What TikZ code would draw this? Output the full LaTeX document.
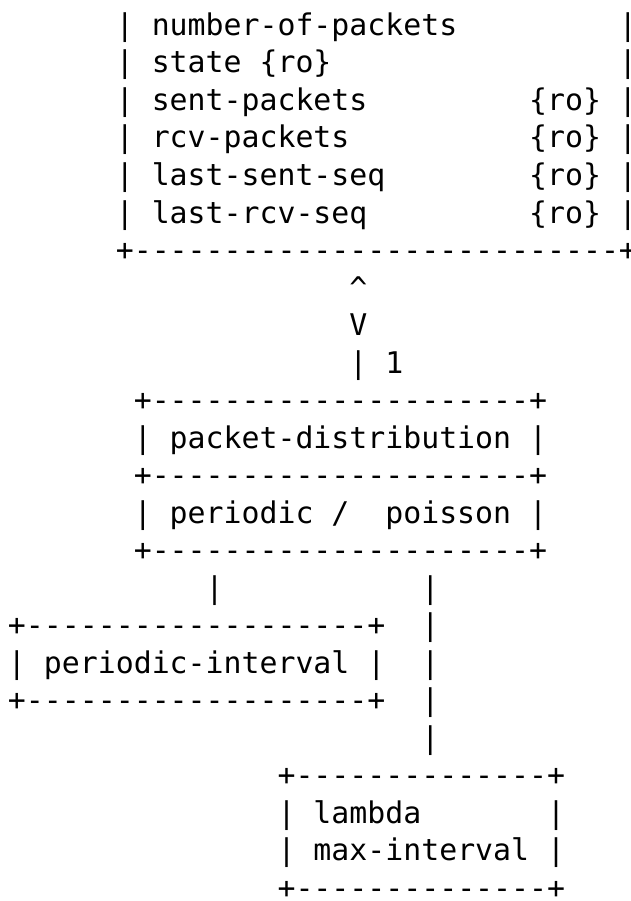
\documentclass[tikz,border=0pt]{standalone}
\usepackage{fontspec}
\setmonofont{DejaVu Sans Mono}
\tikzset{asc/.style={anchor=base west,inner sep=0pt,outer sep=0pt,text=black,
  font=\ttfamily\fontsize{29.85}{37.5}\selectfont}}
\newcommand\ascput[4]{\node[asc] (#1) at ({8+17.97*#2},{-35.5-37.5*(#3-1)}) {#4};}
\begin{document}
\begin{tikzpicture}[x=1pt,y=1pt]
\fill[white] (0,0) rectangle (630,-901);
\useasboundingbox (0,0) rectangle (630,-901);
% top box
\ascput{t1}{6}{1}{| number-of-packets}
\ascput{t1r}{34}{1}{|}
\ascput{t2}{6}{2}{| state \{ro\}}
\ascput{t2r}{34}{2}{|}
\ascput{t3}{6}{3}{| sent-packets}
\ascput{t3r}{29}{3}{\{ro\} |}
\ascput{t4}{6}{4}{| rcv-packets}
\ascput{t4r}{29}{4}{\{ro\} |}
\ascput{t5}{6}{5}{| last-sent-seq}
\ascput{t5r}{29}{5}{\{ro\} |}
\ascput{t6}{6}{6}{| last-rcv-seq}
\ascput{t6r}{29}{6}{\{ro\} |}
\ascput{t7}{6}{7}{+---------------------------+}
% link
\ascput{up}{19}{8}{\textasciicircum}
\ascput{dn}{19}{9}{V}
\ascput{link}{19}{10}{| 1}
% packet-distribution box
\ascput{pd1}{7}{11}{+---------------------+}
\ascput{pd2}{7}{12}{| packet-distribution |}
\ascput{pd3}{7}{13}{+---------------------+}
\ascput{pd4}{7}{14}{| periodic /\ \ poisson |}
\ascput{pd5}{7}{15}{+---------------------+}
% branches
\ascput{la16}{11}{16}{|}
\ascput{lb16}{23}{16}{|}
\ascput{pi1}{0}{17}{+-------------------+}
\ascput{lb17}{23}{17}{|}
\ascput{pi2}{0}{18}{| periodic-interval |}
\ascput{lb18}{23}{18}{|}
\ascput{pi3}{0}{19}{+-------------------+}
\ascput{lb19}{23}{19}{|}
\ascput{lb20}{23}{20}{|}
% lambda box
\ascput{lm1}{15}{21}{+--------------+}
\ascput{lm2}{15}{22}{| lambda}
\ascput{lm2r}{30}{22}{|}
\ascput{lm3}{15}{23}{| max-interval |}
\ascput{lm4}{15}{24}{+--------------+}
\end{tikzpicture}
\end{document}
